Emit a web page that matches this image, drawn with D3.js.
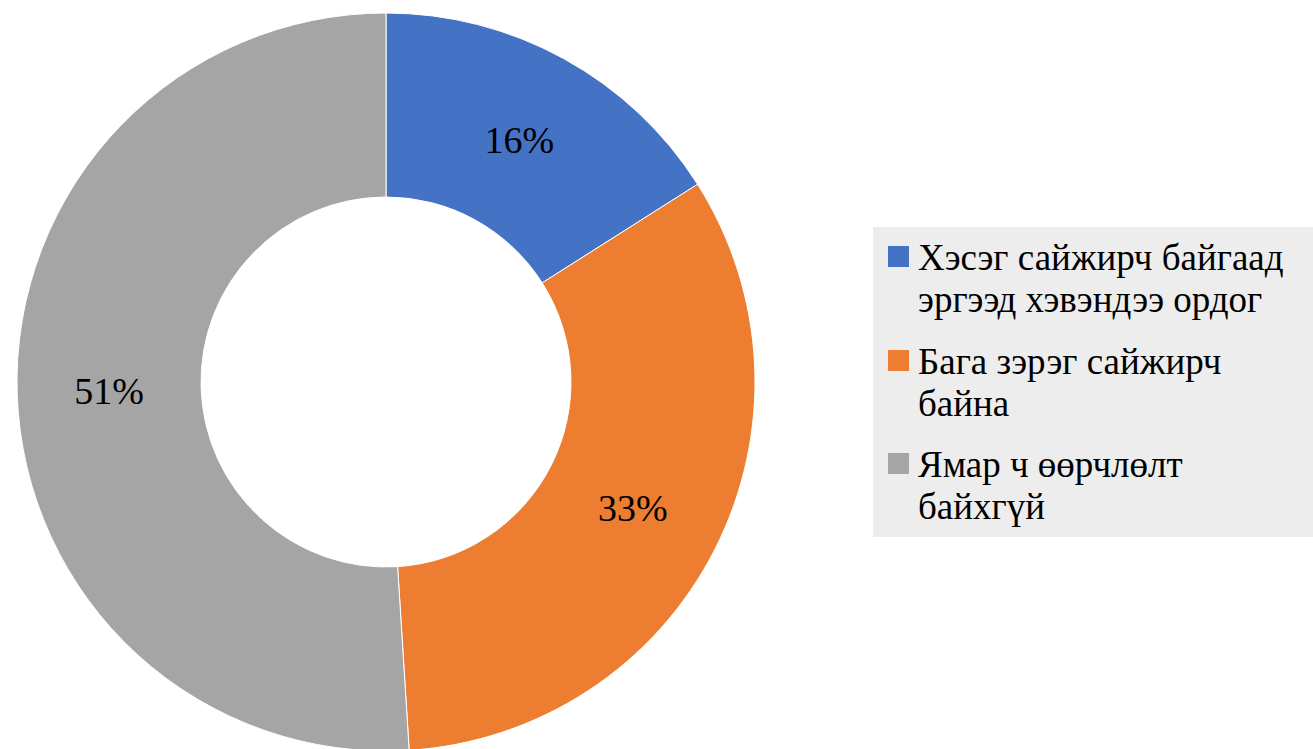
<!DOCTYPE html>
<html><head><meta charset="utf-8">
<script src="https://cdn.jsdelivr.net/npm/d3@7"></script>
<style>html,body{margin:0;padding:0;background:#fff}</style>
</head><body>
<svg id="c" width="1313" height="749" style="font-family:'Liberation Serif',serif"></svg>
<script>
const categories = [["Хэсэг сайжирч байгаад", "эргээд хэвэндээ ордог"], ["Бага зэрэг сайжирч", "байна"], ["Ямар ч өөрчлөлт", "байхгүй"]];
const values = [16, 33, 51];
const colors = ["#4472C4", "#ED7D31", "#A5A5A5"];
const labels = ["16%", "33%", "51%"];

const svg = d3.select("#c");
const cx = 386, cy = 382, R = 369, r = 185;
const pie = d3.pie().sort(null).value(d => d)(values);
const arc = d3.arc().innerRadius(r).outerRadius(R);
const labelArc = d3.arc().innerRadius((r + R) / 2).outerRadius((r + R) / 2);
const g = svg.append("g").attr("transform", `translate(${cx},${cy})`);
g.selectAll("path").data(pie).join("path")
  .attr("d", arc).attr("fill", (d, i) => colors[i])
  .attr("stroke", "#fff").attr("stroke-width", 1);
g.selectAll("text").data(pie).join("text")
  .attr("transform", d => `translate(${labelArc.centroid(d)})`)
  .attr("text-anchor", "middle").attr("dy", "0.35em")
  .style("font-family", "'Liberation Serif', serif")
  .style("font-size", "38px")
  .text((d, i) => labels[i]);

// legend
const lg = svg.append("g");
lg.append("rect").attr("x", 873).attr("y", 227).attr("width", 460).attr("height", 310).attr("fill", "#EDEDED");
const itemY = [246, 350, 453];
categories.forEach((lines, i) => {
  lg.append("rect").attr("x", 888).attr("y", itemY[i]).attr("width", 21).attr("height", 21).attr("fill", colors[i]);
  const t = lg.append("text").attr("x", 918).attr("y", itemY[i] + 24)
    .style("font-family", "'Liberation Serif', serif")
    .style("font-size", "37px");
  lines.forEach((l, j) => t.append("tspan").attr("x", 918).attr("dy", j === 0 ? 0 : 42).text(l));
});
</script>
</body></html>
